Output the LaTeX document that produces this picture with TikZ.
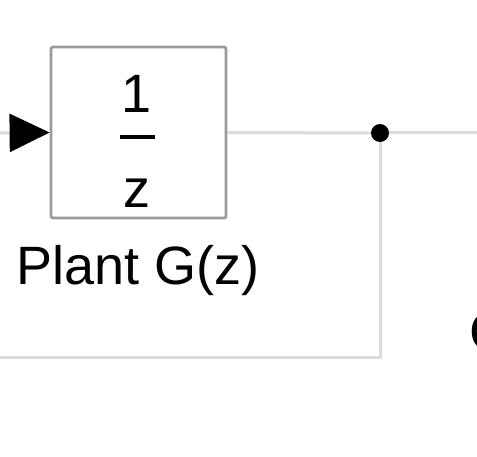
\documentclass[tikz,border=0pt]{standalone}
\usepackage{fontspec}
\setmainfont{Liberation Sans}
\usetikzlibrary{arrows.meta}
\definecolor{wirec}{HTML}{DCDCDC}
\definecolor{boxc}{HTML}{9A9A9A}
\begin{document}
\begin{tikzpicture}[x=1pt,y=-1pt,
  wire/.style={draw=wirec,line width=3pt},
  blockbox/.style={draw=boxc,line width=2.8pt,rounded corners=2pt,fill=white,minimum width=175pt,minimum height=171pt,inner sep=0pt},
  bigtext/.style={font=\fontsize{54}{60}\selectfont,inner sep=0pt},
  joint/.style={circle,fill=black,minimum size=18pt,inner sep=0pt}]
\useasboundingbox (0,0) rectangle (477,457);
\fill[white] (0,0) rectangle (477,457);
\node[blockbox] (plant) at (138.5,132.5) {};
\node[bigtext,anchor=base] (num) at (137,113) {1};
\draw[line width=4pt,black] (120,137) -- (155,137);
\node[bigtext,anchor=base] (den) at (137,208) {z};
\node[bigtext,anchor=base] (lbl) at (138,285) {Plant G(z)};
\node[joint] (dot) at (380,133) {};
\node[bigtext,anchor=base west] (cut) at (469,351) {C};
\coordinate (inl) at (0,133);
\coordinate (outr) at (480,133);
\coordinate (fbend) at (-3,357);
\draw[wire,-{Triangle[length=40pt,width=38pt,fill=black,color=black]}] (inl) -- (plant.west);
\draw[wire] (plant.east) -- (dot);
\draw[wire] (dot) -- (outr);
\draw[wire] (dot) |- (fbend);
\end{tikzpicture}
\end{document}
